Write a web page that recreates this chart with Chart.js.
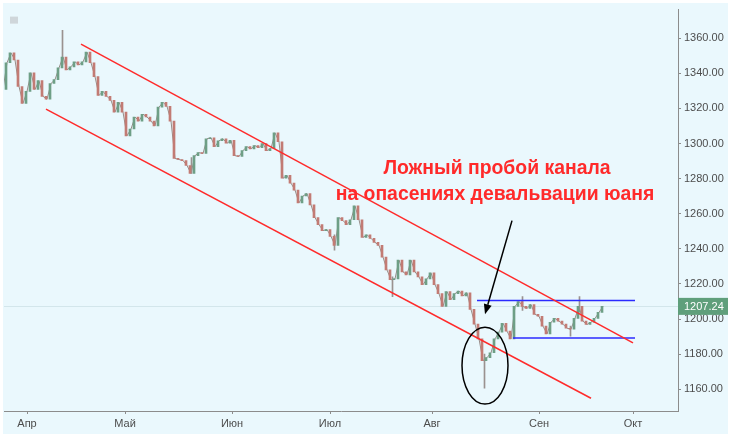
<!DOCTYPE html>
<html>
<head>
<meta charset="utf-8">
<script src="https://cdn.jsdelivr.net/npm/chart.js@4/dist/chart.umd.min.js"></script>
<style>
  html, body { margin: 0; padding: 0; background: #fff; }
  canvas { display: block; }
</style>
</head>
<body>
<canvas id="chart" width="730" height="437"></canvas>
<script>
// closes, one every bar (bar index 0..150)
const closes = [
  1330.8, 1346.0, 1351.6, 1347.6, 1332.5, 1322.9, 1329.7, 1340.3, 1330.8, 1335.8,
  1326.9, 1325.2, 1334.2, 1336.4, 1343.1, 1349.3, 1342.0, 1343.7, 1346.5, 1344.8,
  1346.5, 1352.1, 1346.0, 1338.1, 1327.4, 1329.7, 1326.9, 1324.6, 1317.9, 1323.5,
  1317.9, 1304.4, 1308.3, 1315.1, 1312.8, 1316.7, 1315.1, 1312.8, 1310.0, 1320.7,
  1323.5, 1321.2, 1312.8, 1291.5, 1290.9, 1290.3, 1287.5, 1283.0, 1293.1, 1294.8,
  1294.3, 1302.7, 1303.3, 1298.2, 1301.6, 1302.7, 1300.2, 1301.8, 1293.1, 1292.6,
  1296.0, 1298.2, 1297.0, 1298.8, 1297.6, 1299.9, 1296.0, 1297.1, 1306.1, 1301.0,
  1280.2, 1281.9, 1277.4, 1273.5, 1266.2, 1270.1, 1271.5, 1265.1, 1257.8, 1253.8,
  1250.4, 1251.0, 1247.1, 1242.0, 1257.8, 1256.1, 1253.8, 1256.6, 1264.5, 1256.6,
  1246.5, 1248.0, 1246.0, 1243.7, 1242.0, 1235.3, 1228.0, 1222.4, 1222.9, 1233.6,
  1226.9, 1225.2, 1233.6, 1226.9, 1224.0, 1219.6, 1222.9, 1226.3, 1219.6, 1214.5,
  1207.2, 1215.6, 1211.1, 1214.5, 1216.0, 1213.2, 1215.0, 1205.5, 1197.1, 1188.7,
  1176.3, 1178.0, 1180.8, 1188.7, 1192.6, 1197.6, 1193.1, 1188.7, 1207.2, 1210.0,
  1207.2, 1206.1, 1208.3, 1202.7, 1201.6, 1196.0, 1191.5, 1198.2, 1200.4, 1198.8,
  1197.1, 1194.8, 1194.3, 1200.4, 1207.2, 1198.8, 1196.9, 1198.2, 1200.4, 1203.8,
  1207.24
];

// long wicks: [bar, low, high]
const spikes = [
  [14.75, 1345.0, 1364.5],
  [47, 1283.0, 1292.0],
  [82.75, 1239.2, 1248.0],
  [97.25, 1212.8, 1224.0],
  [120.25, 1160.6, 1180.0],
  [129.75, 1205.0, 1212.8],
  [141.75, 1190.3, 1196.0],
  [144, 1204.0, 1212.8]
];

const monthTicks = [6, 30.5, 57.25, 81.75, 107.25, 134, 157.5];
const monthLabels = ['Апр', 'Май', 'Июн', 'Июл', 'Авг', 'Сен', 'Окт'];
const priceTicks = [1160, 1180, 1200, 1220, 1240, 1260, 1280, 1300, 1320, 1340, 1360];

const channelTop = [{ x: 19.5, y: 1356.6 }, { x: 157.5, y: 1186.4 }];
const channelBottom = [{ x: 10.75, y: 1319.6 }, { x: 147, y: 1154.9 }];
const rangeTop = [{ x: 118.5, y: 1210.6 }, { x: 158, y: 1210.6 }];
const rangeBottom = [{ x: 127.5, y: 1189.2 }, { x: 158, y: 1189.2 }];

const lastPrice = 1207.24;
const ellipse = { x: 120.5, y: 1173.5, rx: 5.75, ry: 21.9 };
const arrow = { from: { x: 127.25, y: 1256.1 }, to: { x: 120.5, y: 1202.7 } };
const noteLines = [
  { x: 123.5, y: 1285.8, text: 'Ложный пробой канала' },
  { x: 123.0, y: 1271.0, text: 'на опасениях девальвации юаня' }
];

const bodies = closes.map((c, i) => ({ x: i, y: [i > 0 ? closes[i - 1] : c, c] }));
const bodyColors = closes.map((c, i) => (i > 0 && c < closes[i - 1]) ? '#c27b74' : '#6e9f86');

const overlay = {
    id: 'overlay',
    beforeDraw(chart) {
        const ctx = chart.ctx;
        ctx.save();
        ctx.fillStyle = '#ffffff';
        ctx.fillRect(0, 0, chart.width, chart.height);
        ctx.fillStyle = '#eaf8fd';
        ctx.fillRect(3, 3, chart.width - 5, chart.height - 6);
        ctx.restore();
    },
    beforeDatasetsDraw(chart) {
        const { ctx, chartArea, scales } = chart;
        const y = Math.round(scales.y.getPixelForValue(lastPrice)) + 0.5;
        ctx.save();
        ctx.strokeStyle = '#d3e6eb';
        ctx.lineWidth = 1;
        ctx.beginPath();
        ctx.moveTo(chartArea.left, y);
        ctx.lineTo(chartArea.right, y);
        ctx.stroke();
        // small logo box top-left
        ctx.fillStyle = '#cfd6da';
        ctx.fillRect(chartArea.left + 6, chartArea.top + 7, 8, 7);
        ctx.restore();
    },
    afterDraw(chart) {
        const { ctx, chartArea, scales } = chart;
        const sx = scales.x, sy = scales.y;
        ctx.save();

        // ellipse
        const cx = sx.getPixelForValue(ellipse.x), cy = sy.getPixelForValue(ellipse.y);
        const rx = sx.getPixelForValue(ellipse.x + ellipse.rx) - cx;
        const ry = cy - sy.getPixelForValue(ellipse.y + ellipse.ry);
        ctx.strokeStyle = '#000';
        ctx.lineWidth = 1.5;
        ctx.beginPath();
        ctx.ellipse(cx, cy, rx, ry, 0, 0, Math.PI * 2);
        ctx.stroke();

        // arrow
        const x1 = sx.getPixelForValue(arrow.from.x), y1 = sy.getPixelForValue(arrow.from.y);
        const x2 = sx.getPixelForValue(arrow.to.x), y2 = sy.getPixelForValue(arrow.to.y);
        const ang = Math.atan2(y2 - y1, x2 - x1);
        const hl = 10, hw = 4;
        const bx = x2 - hl * Math.cos(ang), by = y2 - hl * Math.sin(ang);
        ctx.beginPath();
        ctx.moveTo(x1, y1);
        ctx.lineTo(bx, by);
        ctx.stroke();
        ctx.fillStyle = '#000';
        ctx.beginPath();
        ctx.moveTo(x2, y2);
        ctx.lineTo(bx + hw * Math.sin(ang), by - hw * Math.cos(ang));
        ctx.lineTo(bx - hw * Math.sin(ang), by + hw * Math.cos(ang));
        ctx.closePath();
        ctx.fill();

        // note
        ctx.fillStyle = '#ff2a2a';
        ctx.font = 'bold 19.4px "Liberation Sans", Arial, sans-serif';
        ctx.textAlign = 'center';
        ctx.textBaseline = 'middle';
        noteLines.forEach(l => {
            ctx.fillText(l.text, sx.getPixelForValue(l.x), sy.getPixelForValue(l.y));
        });

        // last price label
        const py = sy.getPixelForValue(lastPrice);
        ctx.fillStyle = '#5f9f7b';
        ctx.fillRect(chartArea.right, py - 8.5, 50, 17);
        ctx.fillStyle = '#ffffff';
        ctx.font = '11px "Liberation Sans", Arial, sans-serif';
        ctx.textAlign = 'left';
        ctx.fillText(lastPrice.toFixed(2), chartArea.right + 6, py + 0.5);
        ctx.restore();
    }
};

new Chart(document.getElementById('chart'), {
    type: 'bar',
    data: {
        datasets: [
            {
                type: 'line',
                data: closes.map((c, i) => ({ x: i, y: c })),
                borderColor: '#978c88',
                borderWidth: 1,
                pointRadius: 0,
                tension: 0,
                order: 3
            },
            {
                data: spikes.map(s => ({ x: s[0], y: [s[1], s[2]] })),
                backgroundColor: '#9a9290',
                barThickness: 1,
                order: 2
            },
            {
                data: bodies,
                backgroundColor: bodyColors,
                barThickness: 2,
                order: 1
            },
            {
                type: 'line',
                data: channelTop,
                borderColor: '#ff2b2b',
                borderWidth: 1.5,
                pointRadius: 0,
                order: 0
            },
            {
                type: 'line',
                data: channelBottom,
                borderColor: '#ff2b2b',
                borderWidth: 1.5,
                pointRadius: 0,
                order: 0
            },
            {
                type: 'line',
                data: rangeTop,
                borderColor: '#2b2bff',
                borderWidth: 1.5,
                pointRadius: 0,
                order: 0
            },
            {
                type: 'line',
                data: rangeBottom,
                borderColor: '#2b2bff',
                borderWidth: 1.5,
                pointRadius: 0,
                order: 0
            }
        ]
    },
    options: {
        responsive: false,
        devicePixelRatio: 1,
        animation: false,
        layout: { padding: { left: 4, top: 4, right: 0, bottom: 0 } },
        plugins: {
            legend: { display: false },
            tooltip: { enabled: false }
        },
        scales: {
            x: {
                type: 'linear',
                min: 0.25,
                max: 168.75,
                offset: false,
                afterFit: function(scale) { scale.height = 26; },
                afterBuildTicks: function(scale) {
                    scale.ticks = monthTicks.map(v => ({ value: v }));
                },
                grid: { offset: false, drawOnChartArea: false, drawTicks: true, tickLength: 3, color: '#8c8c8c' },
                border: { display: true, color: '#8c8c8c' },
                ticks: {
                    autoSkip: false,
                    maxRotation: 0,
                    padding: 3,
                    color: '#4d4d4d',
                    font: { family: '"Liberation Sans", Arial, sans-serif', size: 11 },
                    callback: function(value) {
                        const idx = monthTicks.indexOf(value);
                        return idx >= 0 ? monthLabels[idx] : '';
                    }
                }
            },
            y: {
                position: 'right',
                min: 1147.64,
                max: 1376.29,
                afterFit: function(scale) { scale.width = 52; },
                afterBuildTicks: function(scale) {
                    scale.ticks = priceTicks.map(v => ({ value: v }));
                },
                grid: { drawOnChartArea: false, drawTicks: true, tickLength: 3, color: '#8c8c8c' },
                border: { display: true, color: '#8c8c8c' },
                ticks: {
                    padding: 3,
                    color: '#4d4d4d',
                    font: { family: '"Liberation Sans", Arial, sans-serif', size: 11 },
                    callback: function(value) { return value.toFixed(2); }
                }
            }
        }
    },
    plugins: [overlay]
});
</script>
</body>
</html>
